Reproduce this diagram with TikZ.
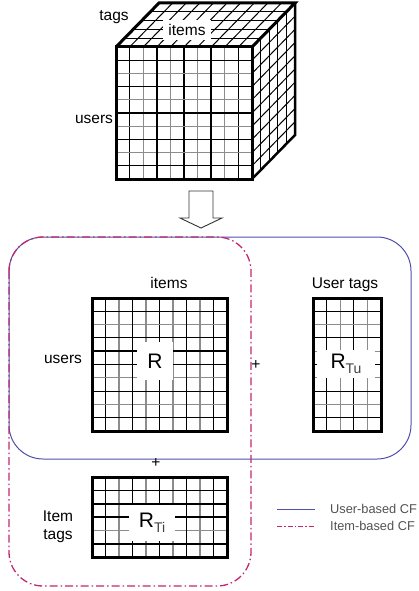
\documentclass[tikz,border=0pt]{standalone}
\usepackage{fontspec}
\setmainfont{Liberation Sans}
\definecolor{blueCF}{RGB}{80,80,170}
\definecolor{magCF}{RGB}{195,40,110}
\definecolor{gridgray}{RGB}{140,140,140}
\newcommand\gridmat[6]{%
  \pgfmathtruncatemacro\nc{#5-1}%
  \pgfmathtruncatemacro\nr{#6-1}%
  \foreach \k in {1,...,\nc}{\ifodd\k\def\gc{black}\else\def\gc{gridgray}\fi
    \draw[line width=1.1pt,\gc] ({#1+(#3-#1)*\k/#5},#2) -- ({#1+(#3-#1)*\k/#5},#4);}%
  \foreach \k in {1,...,\nr}{\ifodd\k\def\gc{black}\else\def\gc{gridgray}\fi
    \draw[line width=1.1pt,\gc] (#1,{#2+(#4-#2)*\k/#6}) -- (#3,{#2+(#4-#2)*\k/#6});}%
}
\begin{document}
\begin{tikzpicture}[x=1pt,y=-1pt,
  lab/.style={font=\fontsize{15.5}{18.5}\selectfont, inner sep=1pt},
  bigR/.style={font=\fontsize{21}{24}\selectfont, fill=white, inner sep=0pt},
  legtext/.style={font=\fontsize{12.8}{15}\selectfont, text=black!68, anchor=west, inner sep=0pt},
  matbox/.style={draw, line width=3pt, inner sep=0pt},
  ucf/.style={draw=blueCF, line width=1pt},
  icf/.style={draw=magCF, line width=1.3pt, dash pattern=on 8pt off 3pt on 1.5pt off 3pt}]
\useasboundingbox (0,0) rectangle (419,591);

% ---------------- cube ----------------
% front face grid
\gridmat{116}{47}{252}{179}{10}{10}
\draw[line width=1.5pt] (156.8,47) -- (156.8,179) (211.2,47) -- (211.2,179);
% top face grid
\foreach \k in {1,...,9}{\draw[line width=1pt] ({116+13.6*\k},47) -- ({159+13.6*\k},3);}
\foreach \j in {1,...,4}{\draw[line width=1pt] ({116+43*\j/5},{47-44*\j/5}) -- ({252+43*\j/5},{47-44*\j/5});}
% right face grid
\foreach \j in {1,...,4}{\draw[line width=1pt] ({252+43*\j/5},{47-44*\j/5}) -- ({252+43*\j/5},{179-44*\j/5});}
\foreach \k in {1,...,9}{\draw[line width=1pt] (252,{47+13.2*\k}) -- (295,{3+13.2*\k});}
% cube outline
\draw[line width=3pt, line join=miter] (116,47) rectangle (252,179);
\draw[line width=3pt, line join=miter] (116,47) -- (159,3) -- (295,3) -- (252,47);
\draw[line width=2.5pt, line join=miter] (295,3) -- (295,135) -- (252,179);
\node[lab, fill=white, minimum width=48pt, minimum height=20pt] (topitems) at (187,30) {items};
\node[lab] (tags) at (114,17) {tags};
\node[lab] (cubeusers) at (94,119) {users};

% ---------------- arrow ----------------
\draw[line width=0.9pt, draw=black!80, line join=miter] (189,191) -- (213,191) -- (213,218) -- (222,218) -- (201,228) -- (180,218) -- (189,218) -- cycle;

% ---------------- groups ----------------
\draw[ucf, rounded corners=34pt] (9,237) rectangle (411,459);
\draw[icf, rounded corners=34pt] (9,237) rectangle (251,586);

% ---------------- matrix R ----------------
\gridmat{92}{298}{227}{431}{10}{10}
\draw[line width=1.6pt] (132.5,298) -- (132.5,431) (186.5,298) -- (186.5,431)
  (92,351.2) -- (227,351.2) (92,364.5) -- (227,364.5);
\node[bigR, minimum width=36pt, minimum height=38pt] (R) at (155,361) {R};
\node[matbox, minimum width=135pt, minimum height=133pt] (Rbox) at (159.5,364.5) {};
\node[lab] (items) at (169,283) {items};
\node[lab] (users) at (63,359) {users};

% ---------------- matrix R_Tu ----------------
\gridmat{313}{298}{381}{431}{5}{10}
\node[bigR, minimum width=58pt, minimum height=28pt] (RTu) at (346,364)
  {R\raisebox{-5pt}{\fontsize{14}{16}\selectfont\color{black!75}Tu}};
\node[matbox, minimum width=68pt, minimum height=133pt] (RTubox) at (347,364.5) {};
\node[lab] (usertags) at (345,285) {User tags};
\node[lab] (plus1) at (256,365) {+};

% ---------------- matrix R_Ti ----------------
\gridmat{92}{477}{227}{557}{10}{6}
\draw[line width=1.6pt] (132.5,477) -- (132.5,557) (186.5,477) -- (186.5,557)
  (92,503.7) -- (227,503.7) (92,543.7) -- (227,543.7);
\node[bigR, minimum width=46pt, minimum height=36pt] (RTi) at (152,523)
  {R\raisebox{-5pt}{\fontsize{14}{16}\selectfont\color{black!75}Ti}};
\node[matbox, minimum width=135pt, minimum height=80pt] (RTibox) at (159.5,517) {};
\node[lab, align=center] (itemtags) at (58,527) {Item\\tags};
\node[lab] (plus2) at (156,463) {+};

% ---------------- legend ----------------
\coordinate (ua) at (277,509); \coordinate (ub) at (315,509);
\coordinate (ia) at (277,526); \coordinate (ib) at (315,526);
\draw[ucf] (ua) -- (ub);
\draw[icf, line width=1pt, dash pattern=on 5pt off 2pt on 1.5pt off 2pt] (ia) -- (ib);
\node[legtext] (ulab) at (330,509) {User-based CF};
\node[legtext] (ilab) at (330,526) {Item-based CF};
\end{tikzpicture}
\end{document}
